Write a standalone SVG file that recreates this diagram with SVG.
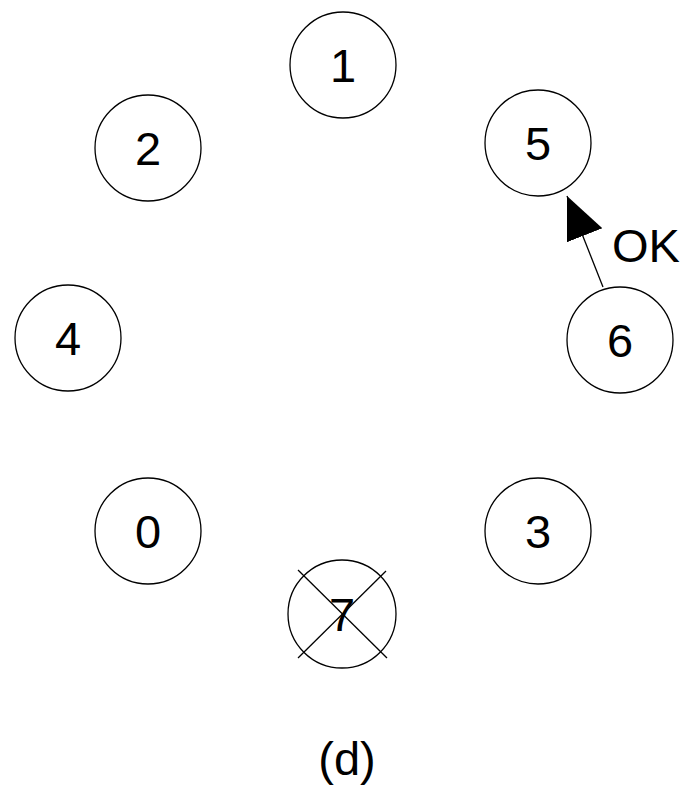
<svg xmlns="http://www.w3.org/2000/svg" width="685" height="788" viewBox="0 0 685 788">
<style>
.n{fill:#fff;stroke:#000;stroke-width:1.3}
.t{font-family:"Liberation Sans",Arial,sans-serif;font-size:47px;fill:#000;text-anchor:middle}
.c{stroke:#000;stroke-width:1.3;fill:none}
</style>
<defs>
<marker id="ah" markerWidth="44" markerHeight="42" refX="43" refY="19" orient="auto" markerUnits="userSpaceOnUse">
<path d="M0,2 L43,19 L0,40 Z" fill="#000"/>
</marker>
</defs>
<rect width="685" height="788" fill="#fff"/>
<g id="node1"><circle class="n" cx="343" cy="65" r="53"/><text class="t" x="343" y="82">1</text></g>
<g id="node2"><circle class="n" cx="148" cy="148" r="53"/><text class="t" x="148" y="165">2</text></g>
<g id="node5"><circle class="n" cx="538" cy="143" r="53"/><text class="t" x="538" y="160">5</text></g>
<g id="node4"><circle class="n" cx="68" cy="338" r="53"/><text class="t" x="68" y="355">4</text></g>
<g id="node6"><circle class="n" cx="620" cy="340" r="53"/><text class="t" x="620" y="357">6</text></g>
<g id="node0"><circle class="n" cx="148" cy="531" r="53"/><text class="t" x="148" y="548">0</text></g>
<g id="node3"><circle class="n" cx="538" cy="531" r="53"/><text class="t" x="538" y="548">3</text></g>
<g id="node7"><circle class="n" cx="342" cy="614" r="54"/><text class="t" x="342" y="631">7</text>
<line class="c" x1="298" y1="570" x2="387" y2="658"/><line class="c" x1="386" y1="571" x2="298" y2="658"/></g>
<g id="connectors">
<line class="c" x1="603" y1="287" x2="567" y2="196" marker-end="url(#ah)"/>
<text x="612" y="262" style="font-family:'Liberation Sans',Arial,sans-serif;font-size:47px">OK</text>
</g>
<text class="t" x="347" y="775">(d)</text>
</svg>
